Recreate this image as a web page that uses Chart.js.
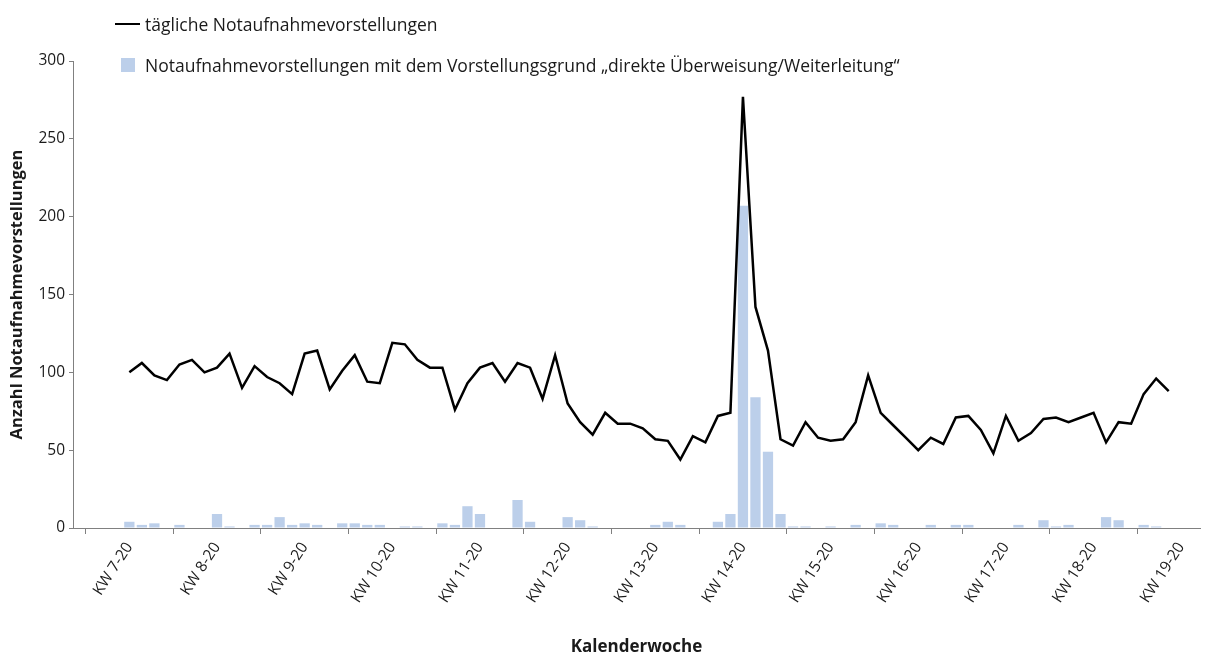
<!DOCTYPE html>
<html lang="de">
<head>
<meta charset="utf-8">
<title>Notaufnahmevorstellungen</title>
<script src="https://cdn.jsdelivr.net/npm/chart.js@4.4.1/dist/chart.umd.min.js"></script>
<style>
  html, body { margin: 0; padding: 0; background: #fff; }
  #wrap { position: relative; width: 1215px; height: 655px; font-family: "Open Sans", sans-serif; color: #1a1a1a; }
  #chart { position: absolute; left: 0; top: 0; }
  .item { position: absolute; white-space: nowrap; font-size: 17.5px; line-height: 24px; display: flex; align-items: center; }
  .line { display: inline-block; width: 25px; height: 0; border-top: 2.5px solid #000; margin-right: 5px; }
  .box { display: inline-block; width: 14px; height: 14px; margin-right: 10px; }
</style>
</head>
<body>
<div id="wrap">
  <canvas id="chart" width="1215" height="655"></canvas>
  <div class="item" id="leg1" style="left:115px; top:12px;"><span class="line"></span><span class="txt"></span></div>
  <div class="item" id="leg2" style="left:121px; top:53px;"><span class="box"></span><span class="txt"></span></div>
</div>
<script>
// Kalenderwochen (tick every 7 days, starting at day 0)
var weekLabels = ['KW 7-20', 'KW 8-20', 'KW 9-20', 'KW 10-20', 'KW 11-20', 'KW 12-20', 'KW 13-20',
                  'KW 14-20', 'KW 15-20', 'KW 16-20', 'KW 17-20', 'KW 18-20', 'KW 19-20'];

var lineLabel = 'tägliche Notaufnahmevorstellungen';
var barLabel = 'Notaufnahmevorstellungen mit dem Vorstellungsgrund „direkte Überweisung/Weiterleitung“';

// daily values, one per day
var dailyTotal = [
  100, 106, 98, 95, 105, 108, 100,
  103, 112, 90, 104, 97, 93, 86,
  112, 114, 89, 101, 111, 94, 93,
  119, 118, 108, 103, 103, 76, 93,
  103, 106, 94, 106, 103, 83, 111,
  80, 68, 60, 74, 67, 67, 64,
  57, 56, 44, 59, 55, 72, 74,
  277, 142, 114, 57, 53, 68, 58,
  56, 57, 68, 98, 74, 66, 58,
  50, 58, 54, 71, 72, 63, 48,
  72, 56, 61, 70, 71, 68, 71,
  74, 55, 68, 67, 86, 96, 88
];

var dailyReferral = [
  4, 2, 3, 0, 2, 0, 0,
  9, 1, 0, 2, 2, 7, 2,
  3, 2, 0, 3, 3, 2, 2,
  0, 1, 1, 0, 3, 2, 14,
  9, 0, 0, 18, 4, 0, 0,
  7, 5, 1, 0, 0, 0, 0,
  2, 4, 2, 0, 0, 4, 9,
  207, 84, 49, 9, 1, 1, 0,
  1, 0, 2, 0, 3, 2, 0,
  0, 2, 0, 2, 2, 0, 0,
  0, 2, 0, 5, 1, 2, 0,
  0, 7, 5, 0, 2, 1, 0
];

var lineColor = '#000000';
var barColor = '#bccfea';
var axisColor = '#808080';

document.querySelector('#leg1 .txt').textContent = lineLabel;
document.querySelector('#leg2 .txt').textContent = barLabel;
document.querySelector('#leg2 .box').style.background = barColor;

Chart.defaults.font.family = '"Open Sans", sans-serif';
Chart.defaults.font.size = 15;
Chart.defaults.color = '#1a1a1a';

var ctx = document.getElementById('chart').getContext('2d');
var chart = new Chart(ctx, {
    type: 'bar',
    data: {
        datasets: [{
            type: 'line',
            label: lineLabel,
            data: dailyTotal.map(function(v, i) { return { x: i, y: v }; }),
            borderColor: lineColor,
            borderWidth: 2.5,
            pointRadius: 0,
            tension: 0,
            order: 0
        }, {
            type: 'bar',
            label: barLabel,
            data: dailyReferral.map(function(v, i) { return { x: i, y: v }; }),
            backgroundColor: barColor,
            barPercentage: 1,
            categoryPercentage: 0.82,
            order: 1
        }]
    },
    options: {
        responsive: false,
        animation: false,
        layout: { padding: { top: 61, right: 15, left: 0, bottom: 0 } },
        plugins: {
            legend: { display: false },
            tooltip: { enabled: false }
        },
        scales: {
            x: {
                type: 'linear',
                min: -4.5,
                max: 85.5,
                offset: false,
                grid: { drawOnChartArea: false, tickLength: 6, color: axisColor },
                border: { color: axisColor },
                afterBuildTicks: function(scale) {
                    scale.ticks = weekLabels.map(function(w, i) { return { value: i * 7 }; });
                },
                ticks: {
                    autoSkip: false,
                    minRotation: 57,
                    maxRotation: 57,
                    padding: 5,
                    font: { size: 15.5 },
                    callback: function(value) { return weekLabels[Math.round(value / 7)]; }
                },
                title: {
                    display: true,
                    text: 'Kalenderwoche',
                    font: { size: 17, weight: 'bold' },
                    padding: { top: 0, bottom: -2 }
                },
                afterFit: function(scale) { scale.height = 127; }
            },
            y: {
                min: 0,
                max: 300,
                grid: { drawOnChartArea: false, tickLength: 4, color: axisColor },
                border: { color: axisColor },
                ticks: { stepSize: 50, padding: 4, font: { size: 15.5 } },
                title: {
                    display: true,
                    text: 'Anzahl Notaufnahmevorstellungen',
                    font: { size: 16.5, weight: 'bold' },
                    padding: { top: 7, bottom: 0 }
                },
                afterFit: function(scale) { scale.width = 73; }
            }
        }
    }
});
</script>
</body>
</html>
